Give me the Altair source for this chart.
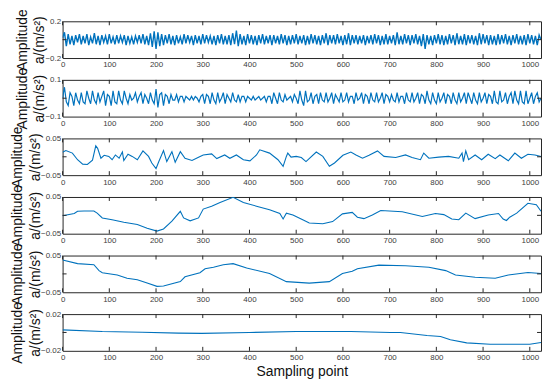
import altair as alt
import pandas as pd

# ---------------- data ----------------
STEP = 4  # sample spacing used for the two dense panels
p1_vals = [
    .02, .08, -.07, .06, -.05, .04, -.06, .05, -.03, .06, -.05, .04, -.04, .06, -.06, .03,
    -.04, .07, -.05, .04, -.06, .05, -.03, .04, -.05, .06, -.04, .03, -.05, .05, -.04, .04,
    -.03, .05, -.06, .04, -.04, .03, -.05, .04, -.03, .05, -.04, .06, -.05, .04, -.06, .07,
    -.08, .09, -.1, .08, -.07, .06, -.06, .05, -.04, .06, -.05, .04, -.06, .05, -.04, .03,
    -.05, .06, -.04, .05, -.03, .04, -.06, .05, -.04, .04, -.05, .06, -.04, .05, -.03, .04,
    -.05, .04, -.06, .05, -.04, .06, -.05, .04, -.05, .05, -.06, .07, -.05, .1, -.07, .06,
    -.05, .04, -.06, .06, -.04, .05, -.05, .04, -.06, .05, -.04, .06, -.05, .04, -.04, .05,
    -.06, .05, -.04, .04, -.05, .06, -.04, .05, -.06, .04, -.05, .05, -.04, .06, -.05, .04,
    -.04, .05, -.06, .04, -.05, .06, -.04, .05, -.05, .04, -.06, .05, -.04, .07, -.06, .05,
    -.04, .05, -.05, .06, -.04, .04, -.06, .05, -.05, .07, -.06, .05, -.04, .05, -.05, .04,
    -.04, .05, -.06, .04, -.04, .05, -.05, .06, -.04, .05, -.06, .04, -.05, .06, -.05, .04,
    -.04, .05, -.06, .08, -.05, .04, -.05, .06, -.04, .05, -.06, .05, -.04, .06, -.05, .04,
    -.07, .06, -.1, .05, -.05, .04, -.06, .05, -.04, .06, -.05, .05, -.06, .04, -.05, .06,
    -.04, .05, -.06, .07, -.05, .04, -.05, .06, -.06, .05, -.04, .05, -.05, .04, -.06, .07,
    -.05, .06, -.04, .05, -.06, .05, -.05, .04, -.06, .06, -.05, .05, -.04, .06, -.05, .04,
    -.06, .05, -.04, .06, -.05, .04, -.05, .05, -.06, .06, -.04, .05, -.05, .04, -.06, .05,
    .0,
]
p2_vals = [
    0, .06, -.02, -.04, .03, .01, -.04, .03, -.01, -.03, .03, -.02, -.03, .04, .0, -.03,
    .04, -.01, -.03, .03, -.02, .01, .04, -.04, .02, .01, -.04, .04, -.02, -.03, .04, -.01,
    -.03, .04, .0, -.03, .02, -.01, .0, .03, -.02, .01, .03, -.03, .02, .0, -.03, .03,
    -.01, -.03, .05, -.05, .02, .03, -.04, .02, .01, -.03, .02, -.01, -.01, .02, -.02, .01,
    .01, -.02, .01, .0, -.01, .01, -.01, .01, .0, -.02, .01, .02, -.03, .02, .01, -.03,
    .03, -.01, -.03, .03, -.02, .0, .03, -.03, .02, .0, -.02, .03, -.01, -.02, .02, -.02,
    .01, .01, -.02, .01, .0, -.01, .01, -.01, .0, .01, -.01, .0, .01, -.02, .01, .01,
    -.03, .03, .0, -.03, .03, -.01, -.02, .02, -.01, .0, .01, -.02, .02, .0, -.03, .04,
    -.01, -.04, .04, -.02, -.01, .03, -.03, .01, .02, -.03, .03, -.01, -.02, .03, -.02, .0,
    .03, -.03, .02, .0, -.02, .03, -.02, -.01, .03, -.02, .01, .01, -.03, .03, -.01, .0,
    .03, -.03, .02, .01, -.03, .03, -.01, -.02, .03, -.02, .0, .03, -.03, .02, .01, -.02,
    .02, -.01, -.02, .03, -.02, .01, .01, -.03, .03, -.01, -.02, .03, -.02, .0, .03, -.03,
    .02, .01, -.03, .04, -.01, -.03, .03, -.01, -.03, .03, -.02, .0, .03, -.03, .02, .01,
    -.03, .03, -.01, -.03, .03, -.02, .0, .03, -.03, .03, .0, -.03, .03, -.01, -.03, .03,
    -.02, .0, .03, -.03, .02, .01, -.03, .04, -.02, -.03, .04, -.02, -.01, .03, -.03, .01,
    .03, -.03, .04, -.01, -.03, .04, -.02, -.03, .04, -.03, .0, .03, -.03, .01, .03, -.02,
    .0,
]
p3_x = [0, 2, 7, 21, 32, 43, 53, 64, 71, 75, 82, 89, 99, 106, 113, 121, 128, 131, 140, 149,
        160, 172, 184, 191, 200, 206, 216, 223, 234, 241, 252, 262, 277, 291, 301, 319, 330,
        347, 358, 372, 387, 401, 415, 422, 443, 461, 472, 479, 482, 489, 500, 511, 521, 543,
        557, 571, 582, 600, 617, 628, 642, 656, 674, 688, 713, 734, 748, 766, 773, 784, 805,
        826, 848, 855, 858, 863, 869, 883, 897, 911, 926, 936, 954, 968, 982, 996, 1011, 1024]
p3_y = [.012, .014, .017, .01, -.008, -.02, -.021, -.009, .03, .023, -.004, .004, .001, -.008,
        .005, -.004, .013, -.01, .007, .001, -.008, .016, .001, -.017, -.032, -.013, .017,
        -.013, .014, -.015, .014, -.004, -.01, -.001, .005, .008, -.005, .005, -.004, .005,
        -.008, -.011, .005, .019, .01, -.008, -.026, .001, .01, -.001, .001, -.002, -.013,
        .013, .001, -.026, -.017, .004, .013, .005, -.004, .004, .016, .001, -.002, .005,
        -.002, -.008, .01, -.004, -.001, .001, -.004, .01, -.013, .016, -.008, .005, -.008,
        .007, -.005, .005, -.011, .01, -.004, .007, .005, .001]
p4_x = [0, 25, 32, 46, 67, 74, 85, 106, 131, 160, 181, 202, 216, 234, 252, 259, 273, 291, 301,
        319, 337, 365, 387, 415, 443, 465, 472, 479, 493, 514, 528, 557, 578, 599, 620, 631,
        645, 663, 681, 727, 770, 798, 816, 833, 848, 863, 883, 911, 933, 943, 950, 957, 972,
        996, 1014, 1024]
p4_y = [-.001, .005, .011, .012, .012, .006, -.007, -.012, -.019, -.025, -.035, -.043, -.037,
        -.016, .011, -.007, -.015, -.007, .017, .025, .035, .049, .035, .025, .015, .005, -.01,
        .006, .001, -.012, -.021, -.023, -.017, .004, .008, -.005, -.009, .001, .013, .01,
        -.003, .005, .002, -.01, -.012, .006, -.009, .001, .005, -.01, -.014, -.005, .006,
        .033, .029, .011]
p5_x = [0, 32, 67, 78, 85, 117, 138, 160, 181, 202, 216, 252, 262, 294, 305, 323, 344, 365,
        394, 443, 479, 528, 571, 599, 620, 631, 677, 734, 784, 820, 841, 883, 926, 954, 996, 1024]
p5_y = [.038, .028, .025, .009, .003, -.003, -.012, -.016, -.025, -.034, -.033, -.021, -.008,
        .003, .014, .018, .025, .028, .016, .001, -.021, -.025, -.021, .001, .007, .014, .024,
        .022, .018, .009, -.003, -.009, -.012, -.003, .004, .001]
p6_x = [0, 85, 170, 248, 298, 400, 500, 617, 702, 723, 780, 809, 830, 865, 915, 1000, 1024]
p6_y = [.0028, .001, .0003, -.0007, -.001, 0, .001, .001, 0, 0, -.0033, -.0044, -.008,
        -.0113, -.0128, -.0128, -.011]

X_TICKS = [0, 100, 200, 300, 400, 500, 600, 700, 800, 900, 1000]
Y_RANGES = [(-0.2, 0.2), (-0.1, 0.1), (-0.05, 0.05), (-0.05, 0.05), (-0.05, 0.05), (-0.02, 0.02)]
Y_TITLE = ["Amplitude", "a/(m/s²)"]
X_TITLE = "Sampling point"

# ---------------- styling ----------------
W, H = 482, 37
TL = 4
LINE = "#0072BD"
FRAME = "#262626"
FONT = "Liberation Sans"
STROKES = [1.4, 1.2, 1.1, 1.1, 1.1, 1.1]


def panel(xs, ys, lo, hi, last, sw):
    df = pd.DataFrame({"x": xs, "y": ys})
    xs_ = alt.Scale(domain=[0, 1024], nice=False, zero=False)
    ys_ = alt.Scale(domain=[lo, hi], nice=False, zero=False)
    xt = X_TITLE if last else None
    xaxis = alt.Axis(values=X_TICKS, ticks=False, domain=False, grid=False,
                     labelFlush=False, labelPadding=3, labelFontSize=8,
                     labelColor="#404040", format="d")
    yaxis = alt.Axis(values=[lo, 0, hi], ticks=False, domain=False, grid=False,
                     labelFlush=False, labelPadding=2, labelFontSize=8,
                     labelColor="#404040", format="~g",
                     titleFontSize=14, titleFontWeight="normal", titleColor="#111",
                     titleLineHeight=18, titlePadding=-2)
    line = alt.Chart(df).mark_line(color=LINE, strokeWidth=sw, clip=True).encode(
        x=alt.X("x:Q", scale=xs_, axis=xaxis, title=xt),
        y=alt.Y("y:Q", scale=ys_, axis=yaxis, title=Y_TITLE),
    )
    tdf = pd.DataFrame({"x": X_TICKS})
    top = alt.Chart(tdf).mark_rule(color=FRAME, strokeWidth=1).encode(
        x=alt.X("x:Q", scale=xs_, title=xt), y=alt.value(0), y2=alt.value(TL))
    bot = alt.Chart(tdf).mark_rule(color=FRAME, strokeWidth=1).encode(
        x=alt.X("x:Q", scale=xs_, title=xt), y=alt.value(H - TL), y2=alt.value(H))
    zdf = pd.DataFrame({"y": [0.0]})
    left = alt.Chart(zdf).mark_rule(color=FRAME, strokeWidth=1).encode(
        y=alt.Y("y:Q", scale=ys_, title=Y_TITLE), x=alt.value(0), x2=alt.value(TL))
    right = alt.Chart(zdf).mark_rule(color=FRAME, strokeWidth=1).encode(
        y=alt.Y("y:Q", scale=ys_, title=Y_TITLE), x=alt.value(W - TL), x2=alt.value(W))
    return alt.layer(line, top, bot, left, right).properties(width=W, height=H)


p1_x = list(range(0, 1025, STEP))
p2_x = list(range(0, 1025, STEP))
series = [(p1_x, p1_vals), (p2_x, p2_vals), (p3_x, p3_y), (p4_x, p4_y), (p5_x, p5_y), (p6_x, p6_y)]

panels = [panel(xs, ys, lo, hi, i == 5, STROKES[i])
          for i, ((xs, ys), (lo, hi)) in enumerate(zip(series, Y_RANGES))]

chart = alt.vconcat(*panels, spacing=22, bounds="flush").properties(
    padding={"left": 2, "right": 0, "top": -2, "bottom": 0}
).configure_view(
    stroke=FRAME, strokeWidth=1
).configure_axis(
    labelFont=FONT, titleFont=FONT
).configure_axisX(
    titleFontSize=14, titleFontWeight="normal", titleColor="#111", titlePadding=3
)

chart.save("out.html", embed_options={"renderer": "svg", "actions": False})
